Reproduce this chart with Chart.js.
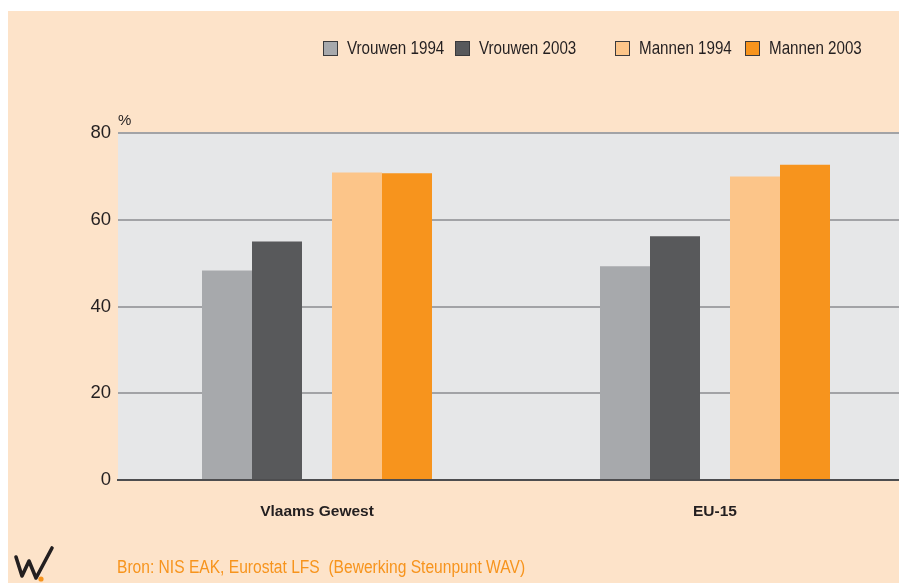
<!DOCTYPE html>
<html>
<head>
<meta charset="utf-8">
<script src="https://cdn.jsdelivr.net/npm/chart.js@4.4.0/dist/chart.umd.min.js"></script>
<style>
  body { margin: 0; background: #fff; }
  #wrap { position: relative; width: 899px; height: 583px; overflow: hidden; background: #fff; }
  #bg { position: absolute; left: 8px; top: 11px; right: 0; bottom: 0; background: #fde3c9; }
  #grafiek { position: absolute; left: 0; top: 0; }
  .legend-item { position: absolute; top: 39px; height: 18px; display: flex; align-items: center;
    font: 18.5px "Liberation Sans Narrow", "Liberation Sans", Arial, sans-serif; color: #231f20; white-space: nowrap; }
  .legend-item span.box { width: 13px; height: 13px; border: 1px solid #3a3a3c; margin-right: 9px; display: inline-block; flex: none; }
  .smal { display: inline-block; transform: scaleX(0.82); transform-origin: left center; white-space: pre; }
  #bron { position: absolute; left: 117px; top: 556px;
    font: 18.8px "Liberation Sans Narrow", "Liberation Sans", Arial, sans-serif; color: #f7941d; }
  #bron .smal { transform: scaleX(0.83); }
  #logo { position: absolute; left: 10px; top: 544px; }
</style>
</head>
<body>
<div id="wrap">
  <div id="bg"></div>
  <canvas id="grafiek" width="914" height="583"></canvas>
  <div id="legende"></div>
  <div id="bron"><span class="smal">Bron: NIS EAK, Eurostat LFS  (Bewerking Steunpunt WAV)</span></div>
  <svg id="logo" width="50" height="39" viewBox="10 544 50 39">
    <polyline points="16,557 22,576 29,561 36,578 52,548" fill="none" stroke="#231f20" stroke-width="3.6" stroke-linejoin="round" stroke-linecap="round"/>
    <circle cx="41" cy="579" r="2.6" fill="#f7941d"/>
  </svg>
</div>
<script>
// gegevens
const categorieen = ['Vlaams Gewest', 'EU-15'];
const reeksNamen = ['Vrouwen 1994', 'Vrouwen 2003', 'Mannen 1994', 'Mannen 2003'];
const vrouwen1994 = [48.3, 49.3];
const vrouwen2003 = [55.0, 56.2];
const mannen1994 = [70.9, 70.0];
const mannen2003 = [70.7, 72.7];
const yTicks = [0, 20, 40, 60, 80];

const kleuren = ['#a7a9ac', '#58595b', '#fcc589', '#f7941d'];
const legendeLinks = [323, 455, 615, 745];
// buitenste balken smallere groep, binnenste bredere: geeft de opening tussen vrouwen en mannen
const groepBreedte = [0.603, 0.804, 0.804, 0.603];

const fontNaam = '"Liberation Sans", Arial, sans-serif';

// legende in html
const legende = document.getElementById('legende');
reeksNamen.forEach((naam, i) => {
  const item = document.createElement('div');
  item.className = 'legend-item';
  item.style.left = legendeLinks[i] + 'px';
  item.innerHTML = `<span class="box" style="background:${kleuren[i]}"></span><span class="smal">${naam}</span>`;
  legende.appendChild(item);
});

const plotAchtergrond = {
  id: 'plotAchtergrond',
  beforeDraw(chart) {
    const { ctx, chartArea: a } = chart;
    ctx.save();
    ctx.fillStyle = '#e6e7e8';
    ctx.fillRect(a.left, a.top, a.right - a.left, a.bottom - a.top);
    ctx.fillStyle = '#231f20';
    ctx.font = '15px ' + fontNaam;
    ctx.textAlign = 'left';
    ctx.textBaseline = 'alphabetic';
    ctx.fillText('%', a.left, a.top - 8);
    ctx.restore();
  }
};

const reeksen = [vrouwen1994, vrouwen2003, mannen1994, mannen2003];

new Chart(document.getElementById('grafiek'), {
  type: 'bar',
  data: {
    labels: categorieen,
    datasets: reeksen.map((waarden, i) => ({
      label: reeksNamen[i],
      data: waarden,
      backgroundColor: kleuren[i],
      borderWidth: 0,
      categoryPercentage: groepBreedte[i],
      barPercentage: 1,
      maxBarThickness: 50
    }))
  },
  options: {
    responsive: false,
    animation: false,
    layout: { padding: { left: 77, top: 133, right: 0, bottom: 53 } },
    plugins: { legend: { display: false }, tooltip: { enabled: false } },
    scales: {
      x: {
        z: 1,
        grid: { display: false, drawTicks: false, tickLength: 0 },
        border: { display: true, color: '#4d4d4f', width: 2 },
        ticks: { color: '#231f20', padding: 22, font: { family: fontNaam, size: 15.5, weight: 'bold' } },
        afterFit(scale) { scale.height = 50; }
      },
      y: {
        min: 0,
        max: 80,
        afterBuildTicks(scale) { scale.ticks = yTicks.map(v => ({ value: v })); },
        grid: {
          drawTicks: false,
          tickLength: 0,
          lineWidth: 2,
          color: ctx => ctx.tick && ctx.tick.value === 0 ? '#4d4d4f' : '#a2a3a6'
        },
        border: { display: false },
        ticks: { color: '#231f20', padding: 7, font: { family: fontNaam, size: 18.5 } },
        afterFit(scale) { scale.width = 41; }
      }
    }
  },
  plugins: [plotAchtergrond]
});
</script>
</body>
</html>
